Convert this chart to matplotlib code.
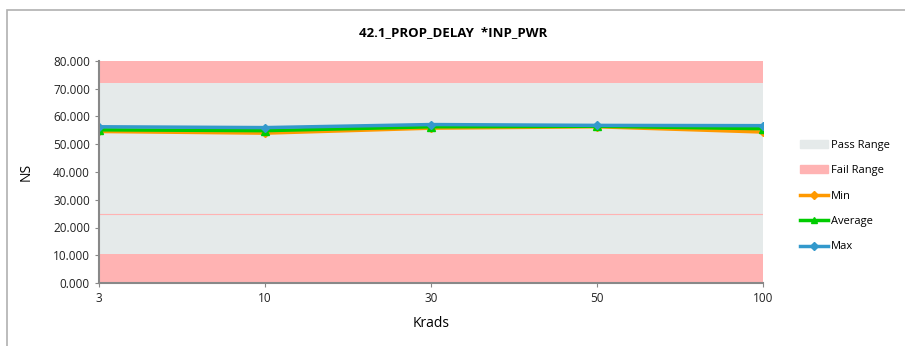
import matplotlib.pyplot as plt
from matplotlib.patches import Rectangle

# data
krads = ['3', '10', '30', '50', '100']
ns_min = [54.6, 54.0, 55.8, 56.3, 54.4]
ns_avg = [55.2, 54.9, 56.3, 56.5, 55.6]
ns_max = [56.3, 56.0, 57.1, 56.8, 56.7]

fail_low = 10.4
pass_high = 72.2
y_top = 80.0
marker_line = 25.0

plt.rcParams['font.family'] = ['Open Sans', 'DejaVu Sans']

fig = plt.figure(figsize=(9.05, 3.46), dpi=100)
fig.patches.append(Rectangle((7 / 905, -0.1), 1.2, 1.1 - 10 / 346, transform=fig.transFigure,
                             fill=False, edgecolor='#b0b0b0', linewidth=1.2))

ax = fig.add_axes([99 / 905, 63 / 346, 664 / 905, 222 / 346])
x = list(range(len(krads)))
xx = [x[0], x[-1]]

ax.fill_between(xx, 0, fail_low, color='#ffb3b3', linewidth=0)
ax.fill_between(xx, fail_low, pass_high, color='#e5eaea', linewidth=0)
ax.fill_between(xx, pass_high, y_top, color='#ffb3b3', linewidth=0)
ax.plot(xx, [marker_line, marker_line], color='#ffb3b3', linewidth=0.8)

ax.plot(x, ns_min, color='#ff9900', marker='D', markersize=4.5, linewidth=2.5, label='Min')
ax.plot(x, ns_avg, color='#00cc00', marker='^', markersize=5.5, linewidth=2.5, label='Average')
ax.plot(x, ns_max, color='#3399cc', marker='D', markersize=4.5, linewidth=2.5, label='Max')

ax.set_xlim(0, len(krads) - 1)
ax.set_ylim(0, y_top)
ax.set_xticks(x)
ax.set_xticklabels(krads)
ax.set_yticks([0, 10, 20, 30, 40, 50, 60, 70, 80])
ax.set_yticklabels(['%.3f' % v for v in ax.get_yticks()])
ax.tick_params(labelsize=8.5, colors='#222222', length=3, color='#888888')
for s in ['top', 'right']:
    ax.spines[s].set_visible(False)
for s in ['left', 'bottom']:
    ax.spines[s].set_color('#888888')
    ax.spines[s].set_linewidth(1.5)

ax.set_ylabel('NS', fontsize=10, labelpad=14)
ax.set_xlabel('Krads', fontsize=10, labelpad=8)
fig.text(453 / 905, 1 - 33 / 346, '42.1_PROP_DELAY  *INP_PWR', ha='center', va='center',
         fontsize=9.5, fontweight='bold')

# legend
h_pass = Rectangle((0, 0), 1, 1, color='#e5eaea')
h_fail = Rectangle((0, 0), 1, 1, color='#ffb3b3')
lines = ax.get_lines()[1:]
fig.legend([h_pass, h_fail] + lines, ['Pass Range', 'Fail Range', 'Min', 'Average', 'Max'],
           loc='center left', bbox_to_anchor=(790 / 905, 1 - 196 / 346), frameon=False,
           fontsize=8, labelspacing=1.3, handlelength=2.5, handletextpad=0.3, markerscale=0.8)

fig.savefig('out.png', dpi=100)
